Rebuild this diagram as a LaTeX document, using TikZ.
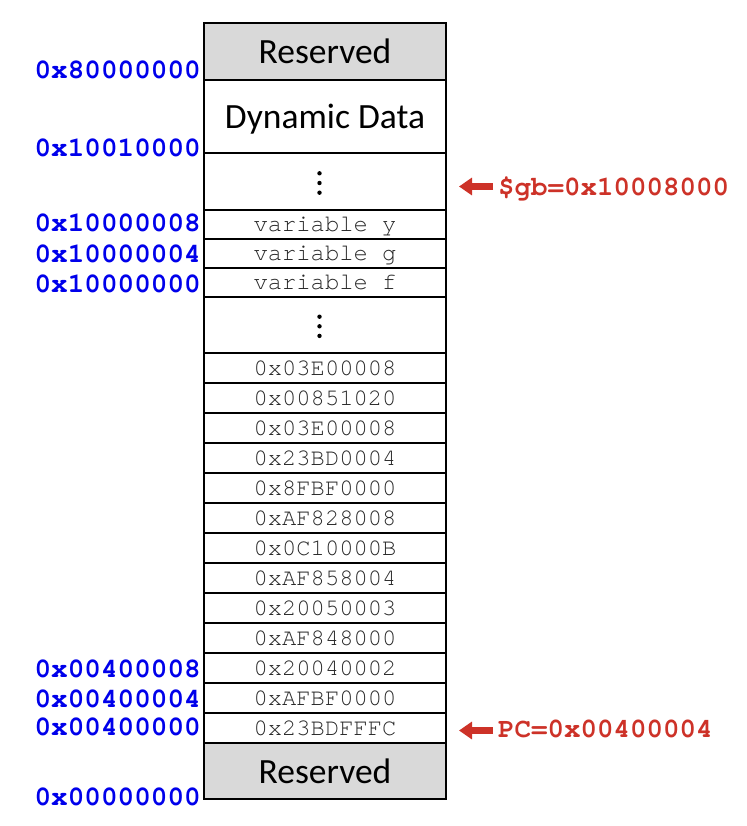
\documentclass[tikz,border=0pt]{standalone}
\usepackage{fontspec}
\setmainfont{Carlito}
\newfontfamily\monofont{TeX Gyre Cursor}
\usetikzlibrary{arrows.meta}
\definecolor{addrblue}{RGB}{0,0,235}
\definecolor{ptrred}{RGB}{205,50,40}
\definecolor{resgray}{RGB}{217,217,217}
\definecolor{celltext}{RGB}{40,40,40}
\begin{document}
\begin{tikzpicture}[x=1pt,y=-1pt,
  cell/.style={draw=black, line width=2pt, minimum width=242pt, inner sep=0pt,
    anchor=north west, text depth=0pt},
  bigcell/.style={cell, font=\fontsize{35.5}{40}\selectfont},
  rescell/.style={bigcell, fill=resgray},
  monocell/.style={cell, text=celltext, font=\monofont\fontsize{23.8}{26}\selectfont},
  addr/.style={anchor=base east, inner sep=0pt, text=addrblue,
    font=\monofont\bfseries\fontsize{27.7}{30}\selectfont},
  ptrlabel/.style={anchor=base west, inner sep=0pt, text=ptrred,
    font=\monofont\bfseries\fontsize{27.5}{30}\selectfont},
  ptrarrow/.style={draw=ptrred, line width=6.5pt, -{Triangle[length=13pt,width=17pt]}},
  dot/.style={fill=black}]
\useasboundingbox (0,0) rectangle (746,826);

% memory cells
\node[rescell, minimum height=57pt] (res1) at (203,22) {Reserved};
\node[bigcell, minimum height=73pt] (dyn) at (203,79) {Dynamic Data};
\node[cell, minimum height=57pt] (dots1) at (203,152) {};
\node[monocell, minimum height=29pt] (vary) at (203,209) {variable y};
\node[monocell, minimum height=29pt] (varg) at (203,238) {variable g};
\node[monocell, minimum height=29pt] (varf) at (203,267) {variable f};
\node[cell, minimum height=56pt] (dots2) at (203,296) {};
\foreach \t [count=\i from 0] in {0x03E00008,0x00851020,0x03E00008,0x23BD0004,
  0x8FBF0000,0xAF828008,0x0C10000B,0xAF858004,0x20050003,0xAF848000,
  0x20040002,0xAFBF0000,0x23BDFFFC}
  \node[monocell, minimum height=30pt] (row\i) at (203,352+30*\i) {\t};
\node[rescell, minimum height=56pt] (res2) at (203,742) {Reserved};

% vertical dots
\fill[dot] (319.5,173.3) circle (2.2pt);
\fill[dot] (319.5,183) circle (2.2pt);
\fill[dot] (319.5,192.7) circle (2.2pt);
\fill[dot] (319.5,316.7) circle (2.2pt);
\fill[dot] (319.5,326.3) circle (2.2pt);
\fill[dot] (319.5,335.9) circle (2.2pt);

% addresses
\node[addr] (a1) at (201,79) {0x80000000};
\node[addr] (a2) at (201,157) {0x10010000};
\node[addr] (a3) at (201,232) {0x10000008};
\node[addr] (a4) at (201,262.5) {0x10000004};
\node[addr] (a5) at (201,292.5) {0x10000000};
\node[addr] (a6) at (201,677) {0x00400008};
\node[addr] (a7) at (201,707) {0x00400004};
\node[addr] (a8) at (201,735.5) {0x00400000};
\node[addr] (a9) at (201,805) {0x00000000};

% pointers
\node[ptrlabel] (gb) at (498,196) {\$gb=0x10008000};
\node[ptrlabel] (pc) at (498,737) {PC=0x00400004};
\coordinate (gbtail) at (493,186.5);
\coordinate (gbtip) at (459,186.5);
\coordinate (pctail) at (493,730.5);
\coordinate (pctip) at (459,730.5);
\draw[ptrarrow] (gbtail) -- (gbtip);
\draw[ptrarrow] (pctail) -- (pctip);
\end{tikzpicture}
\end{document}
